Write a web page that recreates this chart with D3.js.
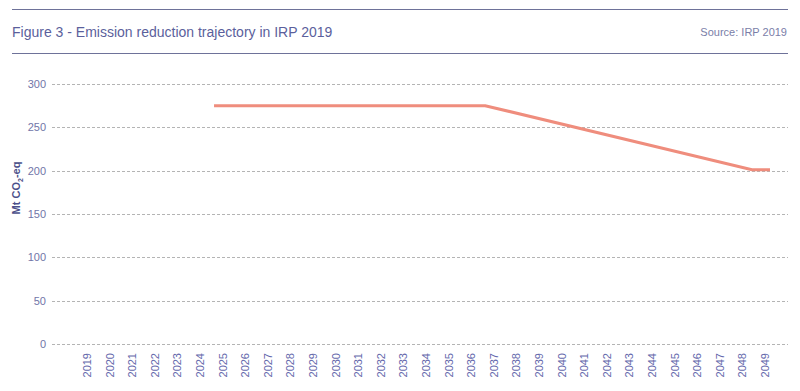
<!DOCTYPE html>
<html>
<head>
<meta charset="utf-8">
<script src="https://cdn.jsdelivr.net/npm/d3@7"></script>
<style>
  body { margin: 0; background: #fff; }
  text { font-family: "Liberation Sans", Arial, sans-serif; }
</style>
</head>
<body>
<div id="chart"></div>
<script>
// categories on the x axis
var years = d3.range(2019, 2050).map(String);
var yTicks = [0, 50, 100, 150, 200, 250, 300];

// emission trajectory (x in years, y in Mt CO2-eq)
var lineYears = [2024.4, 2036.4, 2048.2, 2049];
var lineValues = [275, 275, 201, 201];

var width = 800, height = 391;

var svg = d3.select("#chart").append("svg")
    .attr("width", width)
    .attr("height", height);

// header rules + title
svg.append("line").attr("x1", 12).attr("x2", 788).attr("y1", 9.5).attr("y2", 9.5)
    .attr("stroke", "#6e7299").attr("stroke-width", 1);
svg.append("line").attr("x1", 12).attr("x2", 788).attr("y1", 53.5).attr("y2", 53.5)
    .attr("stroke", "#6e7299").attr("stroke-width", 1);
svg.append("text").attr("x", 12).attr("y", 37)
    .attr("font-size", 14).attr("fill", "#5b5f9c")
    .text("Figure 3 - Emission reduction trajectory in IRP 2019");
svg.append("text").attr("x", 787).attr("y", 36)
    .attr("text-anchor", "end")
    .attr("font-size", 11).attr("fill", "#7a7ea8")
    .text("Source: IRP 2019");

var y = d3.scaleLinear()
    .domain([0, 300])
    .range([344, 84]);

var x = d3.scalePoint()
    .domain(years)
    .range([87, 765]);

var xl = d3.scaleLinear()
    .domain([2019, 2049])
    .range([92, 770]);

// gridlines
svg.append("g").selectAll("line")
    .data(yTicks)
    .join("line")
    .attr("x1", 52).attr("x2", 788)
    .attr("y1", function(d) { return Math.round(y(d)) + 0.5; })
    .attr("y2", function(d) { return Math.round(y(d)) + 0.5; })
    .attr("stroke", "#b4b4b4")
    .attr("stroke-dasharray", "3,2");

// y tick labels
svg.append("g").selectAll("text")
    .data(yTicks)
    .join("text")
    .attr("x", 46)
    .attr("y", function(d) { return y(d); })
    .attr("dy", "0.35em")
    .attr("text-anchor", "end")
    .attr("font-size", 11)
    .attr("fill", "#7175a8")
    .text(function(d) { return d; });

// x tick labels, rotated
svg.append("g").selectAll("text")
    .data(years)
    .join("text")
    .attr("transform", function(d) { return "translate(" + (x(d) + 4) + ",353) rotate(-90)"; })
    .attr("text-anchor", "end")
    .attr("font-size", 11)
    .attr("fill", "#6468ac")
    .text(function(d) { return d; });

// y axis title
var yt = svg.append("text")
    .attr("transform", "translate(20,188) rotate(-90)")
    .attr("text-anchor", "middle")
    .attr("font-size", 11)
    .attr("font-weight", "bold")
    .attr("fill", "#4b4f8a");
yt.append("tspan").text("Mt CO");
yt.append("tspan").attr("font-size", 7).attr("dy", 3).text("2");
yt.append("tspan").attr("dy", -3).text("-eq");

// trajectory line
var line = d3.line()
    .x(function(d, i) { return xl(lineYears[i]); })
    .y(function(d) { return y(d); });

svg.append("path")
    .datum(lineValues)
    .attr("d", line)
    .attr("fill", "none")
    .attr("stroke", "#ef8d7d")
    .attr("stroke-width", 3);
</script>
</body>
</html>
